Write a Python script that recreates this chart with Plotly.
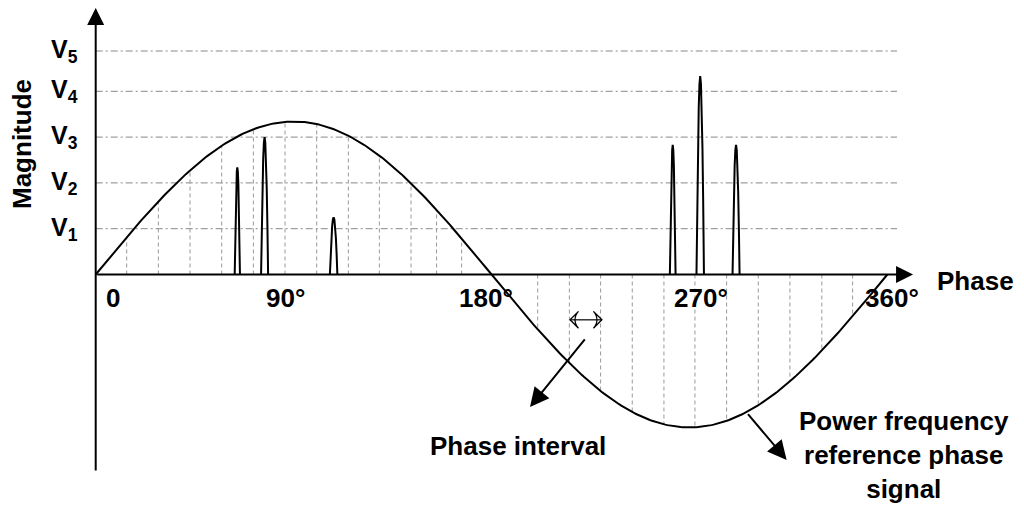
import numpy as np
import plotly.graph_objects as go

# reference signal (phase in degrees, magnitude in V units)
amplitude = 3.34
phase_deg = np.linspace(0, 360, 361)

# discharge pulses
pulse_phase = [64.4, 76.8, 108.2, 262.4, 274.9, 291.2]
pulse_height = [2.34, 3.0, 1.25, 2.83, 4.33, 2.83]
pulse_halfwidth = [1.2, 1.6, 1.7, 1.3, 1.7, 1.6]

# phase-interval divisions (dashed verticals)
interval_phase = [14.1, 28.5, 42.9, 57.3, 71.7, 86.1, 100.5, 114.9, 129.0, 143.4, 155.0, 166.4,
                  201.0, 215.4, 229.6, 244.0, 258.4, 272.5, 286.9, 301.3, 315.7, 330.2, 344.2]

# magnitude levels and their labels
v_levels = [1, 2, 3, 4, 4.88]
v_labels = ["V<sub>1</sub>", "V<sub>2</sub>", "V<sub>3</sub>", "V<sub>4</sub>", "V<sub>5</sub>"]

# phase tick labels
phase_labels = ["0", "90°", "180°", "270°", "360°"]
phase_label_x = [7.9, 86.1, 177.7, 275.3, 362.1]

FONT = "Liberation Sans, Arial, sans-serif"
# the page body adds an 8px offset, ranges are shifted to compensate
X_RANGE = [-39.88, 425.78]
Y_RANGE = [-5.448, 5.819]

fig = go.Figure()

# horizontal dash-dot levels
gx, gy = [], []
for v in v_levels:
    gx += [0, 364.4, None]
    gy += [v, v, None]
fig.add_trace(go.Scatter(x=gx, y=gy, mode="lines", hoverinfo="skip",
                         line=dict(color="#888888", width=1, dash="7px,3px,2px,3px")))

# vertical dashed interval lines between axis and signal
vx, vy = [], []
for p in interval_phase:
    vx += [p, p, None]
    vy += [0, amplitude * np.sin(np.radians(p)), None]
fig.add_trace(go.Scatter(x=vx, y=vy, mode="lines", hoverinfo="skip",
                         line=dict(color="#999999", width=1, dash="4px,3px")))

# pulses
shape_offsets = np.array([-1, -0.8, -0.6, -0.4, -0.2, 0, 0.2, 0.4, 0.6, 0.8, 1])
px_, py_ = [], []
for c, h, w in zip(pulse_phase, pulse_height, pulse_halfwidth):
    px_ += list(c + shape_offsets * w) + [None]
    py_ += list(h * (1 - shape_offsets ** 2)) + [None]
fig.add_trace(go.Scatter(x=px_, y=py_, mode="lines", hoverinfo="skip",
                         line=dict(color="black", width=2)))

# power frequency reference signal
fig.add_trace(go.Scatter(x=phase_deg, y=amplitude * np.sin(np.radians(phase_deg)), mode="lines",
                         hoverinfo="skip", line=dict(color="black", width=2)))

# phase interval double arrow
fig.add_trace(go.Scatter(x=[215.7, 230.2], y=[-0.99, -0.99], mode="lines+markers",
                         hoverinfo="skip", line=dict(color="black", width=1.2),
                         marker=dict(symbol="arrow-wide-open", size=12, color="black",
                                     angleref="up", angle=[-90, 90],
                                     line=dict(width=1.3, color="black"))))

annotations = []


def arrow(x0, y0, x1, y1, size=1.7):
    # straight line from (x0, y0) with a filled head at (x1, y1)
    annotations.append(dict(x=x1, y=y1, ax=x0, ay=y0, xref="x", yref="y", axref="x", ayref="y",
                            text="", showarrow=True, arrowhead=2, arrowsize=size,
                            arrowwidth=2, arrowcolor="black"))


# axes
arrow(0, -4.31, 0, 5.82)
arrow(0, 0, 371.7, 0)

# callout arrows
arrow(222.97, -1.386, 197.5, -2.893, size=1.9)
arrow(296.05, -3.017, 314.2, -4.05, size=1.9)

# magnitude labels
for v, lab in zip(v_levels, v_labels):
    annotations.append(dict(x=-14.4, y=v, xref="x", yref="y", text="<b>" + lab + "</b>",
                            showarrow=False, font=dict(family=FONT, size=25, color="black")))

# phase labels
for xp, lab in zip(phase_label_x, phase_labels):
    annotations.append(dict(x=xp, y=-0.513, xref="x", yref="y", text="<b>" + lab + "</b>",
                            showarrow=False, font=dict(family=FONT, size=26, color="black")))

annotations.append(dict(x=400.3, y=-0.142, xref="x", yref="y", text="<b>Phase</b>",
                        showarrow=False, font=dict(family=FONT, size=26, color="black")))
annotations.append(dict(x=-33.5, y=2.85, xref="x", yref="y", text="<b>Magnitude</b>",
                        showarrow=False, textangle=-90, borderpad=0,
                        font=dict(family=FONT, size=26, color="black")))
annotations.append(dict(x=192.1, y=-3.745, xref="x", yref="y", text="<b>Phase interval</b>",
                        showarrow=False, font=dict(family=FONT, size=26, color="black")))
annotations.append(dict(x=367.6, y=-3.94, xref="x", yref="y",
                        text="<b>Power frequency<br>reference phase<br>signal</b>",
                        showarrow=False, align="center",
                        font=dict(family=FONT, size=26, color="black")))

fig.update_layout(
    width=1024, height=516,
    margin=dict(l=0, r=0, t=0, b=0),
    paper_bgcolor="white", plot_bgcolor="white",
    showlegend=False,
    xaxis=dict(range=X_RANGE, visible=False, fixedrange=True),
    yaxis=dict(range=Y_RANGE, visible=False, fixedrange=True),
    annotations=annotations,
)

fig.write_html("out.html")
